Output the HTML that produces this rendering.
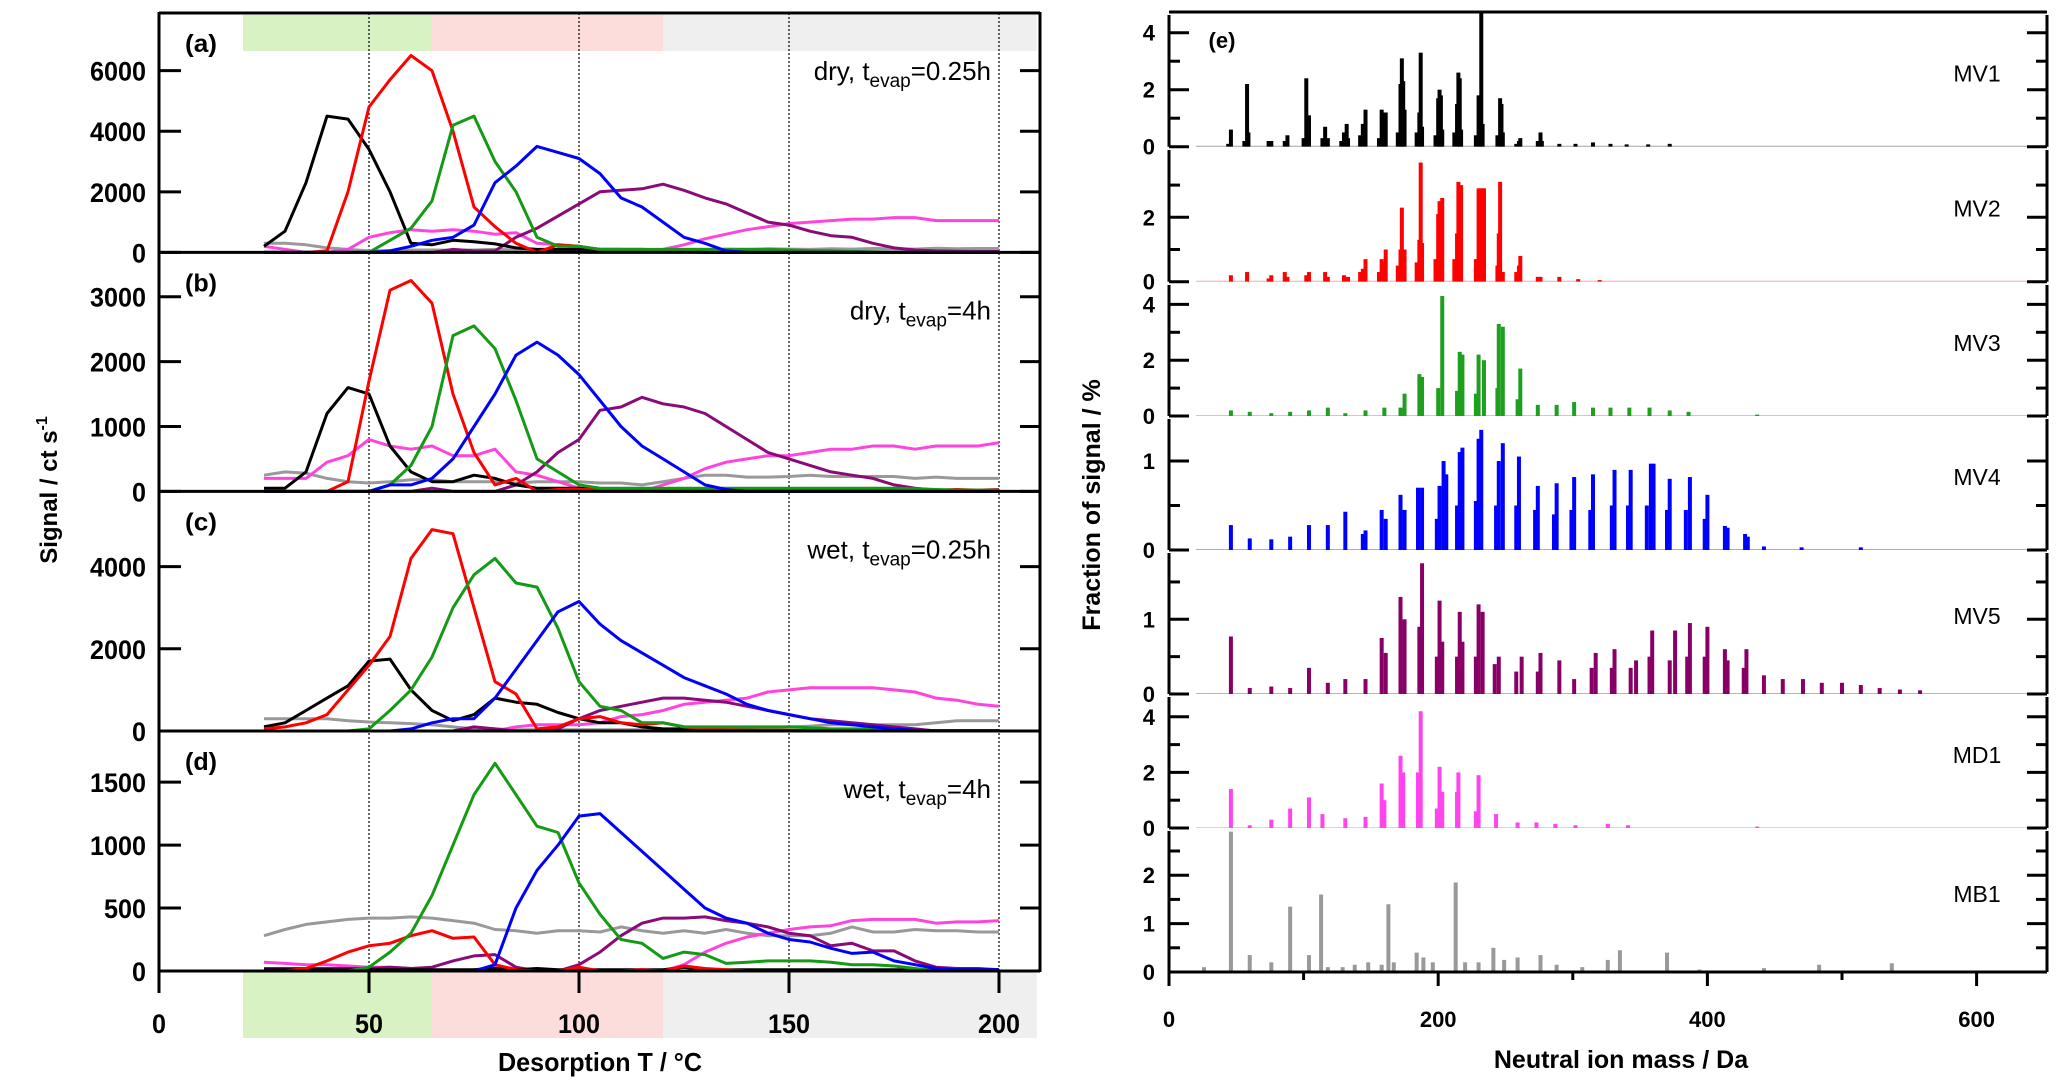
<!DOCTYPE html>
<html><head><meta charset="utf-8">
<style>
html,body{margin:0;padding:0;background:#fff;}
svg{display:block;}
text{font-family:"Liberation Sans",sans-serif;}
.narrow{font-family:"Liberation Sans Narrow","Liberation Sans",sans-serif;}
</style></head>
<body>
<svg id="fig" width="2067" height="1085" viewBox="0 0 2067 1085" xmlns="http://www.w3.org/2000/svg">
<g id="left"></g>
<g id="right"></g>
</svg>
<script>
// ---------- Left panels: desorption thermograms ----------
const temps = [25,30,35,40,45,50,55,60,65,70,75,80,85,90,95,100,105,110,115,120,125,130,135,140,145,150,155,160,165,170,175,180,185,190,195,200];
const seriesColors = ["#000000","#ff0000","#149a14","#0000ff","#8a0a78","#ff44dd","#999999"];
// panel (a) dry 0.25h
const aBlack  = [200,700,2300,4500,4400,3400,2000,300,250,400,350,280,150,100,100,100,100,100,100,80,30,0,0,0,0,0,0,0,0,0,0,0,0,0,0,0];
const aRed    = [0,0,0,50,2000,4800,5700,6500,6000,4000,1500,850,300,0,250,200,100,100,50,50,20,0,0,0,0,0,0,0,0,0,0,0,0,0,0,0];
const aGreen  = [0,0,0,0,0,0,400,800,1700,4200,4500,3000,2000,500,200,200,100,100,100,100,100,100,100,100,100,80,60,50,30,20,0,0,0,0,0,0];
const aBlue   = [0,0,0,0,0,0,50,200,400,500,900,2300,2850,3500,3300,3100,2600,1800,1500,1000,500,300,50,0,0,0,0,0,0,0,0,0,0,0,0,0];
const aPurple = [0,0,0,0,0,0,0,0,0,100,50,50,500,800,1200,1600,2000,2050,2100,2250,2050,1800,1600,1300,1000,900,700,550,500,300,150,80,50,40,30,30];
const aPink   = [200,100,0,0,100,500,650,750,700,750,700,600,650,300,250,150,100,50,50,100,250,450,600,750,850,950,1000,1050,1100,1100,1150,1150,1050,1050,1050,1050];
const aGray   = [300,300,250,150,100,50,60,80,80,70,80,100,80,60,70,80,50,60,70,80,100,100,110,100,120,110,100,120,110,130,120,110,140,120,130,130];
// panel (b) dry 4h
const bBlack  = [50,50,300,1200,1600,1500,700,300,150,150,250,200,100,50,50,50,30,20,10,0,0,0,0,0,0,0,0,0,0,0,0,0,0,0,0,0];
const bRed    = [0,0,0,0,150,1700,3100,3250,2900,1500,600,100,200,0,30,30,30,20,20,20,20,20,20,20,20,20,20,20,20,20,20,30,20,30,20,30];
const bGreen  = [0,0,0,0,0,0,100,400,1000,2400,2550,2200,1400,500,300,100,50,50,50,50,50,50,50,50,50,50,50,50,50,50,50,40,30,20,20,20];
const bBlue   = [0,0,0,0,0,0,100,100,200,500,1000,1500,2100,2300,2100,1800,1400,1000,700,500,300,100,30,0,0,0,0,0,0,0,0,0,0,0,0,0];
const bPurple = [0,0,0,0,0,0,0,0,50,0,0,0,100,300,600,800,1250,1300,1450,1350,1300,1200,1000,800,600,500,400,300,250,200,100,50,20,20,10,10];
const bPink   = [200,200,200,450,550,800,700,650,700,550,550,650,300,250,150,50,0,0,0,100,200,350,450,500,550,550,600,650,650,700,700,650,700,700,700,750];
const bGray   = [250,300,280,200,150,130,150,180,180,150,150,150,130,150,150,150,130,130,100,150,200,250,250,220,220,230,250,230,230,230,230,200,220,200,200,200];
// panel (c) wet 0.25h
const cBlack  = [100,200,500,800,1100,1700,1750,1000,500,250,400,800,700,650,450,300,200,200,100,50,50,30,20,20,10,10,0,0,0,0,0,0,0,0,0,0];
const cRed    = [50,100,200,400,1000,1600,2300,4200,4900,4800,3000,1200,900,50,100,300,350,200,150,200,100,50,30,20,20,20,10,10,10,10,10,10,10,10,10,10];
const cGreen  = [0,0,0,0,0,50,500,1000,1800,3000,3800,4200,3600,3500,2500,1200,600,500,200,200,100,100,100,100,100,100,80,50,50,50,30,0,0,0,0,0];
const cBlue   = [0,0,0,0,0,0,0,50,200,300,300,800,1500,2200,2900,3150,2600,2200,1900,1600,1300,1100,900,650,500,400,300,200,150,100,50,20,10,10,10,10];
const cPurple = [0,0,0,0,0,0,0,0,0,0,100,50,0,0,50,300,500,600,700,800,800,750,700,600,500,400,300,250,200,150,100,50,0,0,0,0];
const cPink   = [0,0,0,0,0,0,0,0,0,0,0,0,100,150,150,150,200,350,400,500,650,700,750,800,950,1000,1050,1050,1050,1050,1000,950,800,750,650,600];
const cGray   = [300,300,300,300,250,220,200,180,150,100,50,50,30,30,30,30,30,30,30,30,40,40,50,50,60,100,120,150,150,150,150,150,200,250,250,250];
// panel (d) wet 4h
const dBlack  = [10,10,10,10,10,10,10,10,10,10,10,20,10,20,10,10,10,10,10,10,30,10,10,10,10,10,10,10,10,10,10,10,10,10,10,10];
const dRed    = [0,0,20,80,150,200,220,280,320,260,270,50,10,0,0,30,0,0,10,0,40,20,10,0,0,0,0,0,0,0,0,0,0,0,0,0];
const dGreen  = [0,0,0,0,0,30,150,300,600,1000,1400,1650,1400,1150,1100,700,450,250,220,100,150,130,60,70,80,80,80,70,50,50,40,20,0,0,0,0];
const dBlue   = [0,0,0,0,0,0,0,0,0,0,0,50,500,800,1000,1230,1250,1100,950,800,650,500,420,380,300,250,230,180,140,150,80,50,20,10,10,10];
const dPurple = [20,20,20,20,20,20,30,20,30,80,120,130,30,0,0,50,150,280,380,420,420,430,400,380,350,300,280,200,220,160,160,80,30,20,20,10];
const dPink   = [70,60,50,50,40,30,30,20,10,0,10,30,20,10,0,0,0,0,10,0,50,150,220,270,300,330,350,360,400,410,410,410,380,390,390,400];
const dGray   = [280,330,370,390,410,420,420,430,420,400,380,330,320,300,320,320,310,350,320,300,320,300,330,300,280,280,280,300,350,310,310,330,320,320,310,310];

const panelSeries = [
  [aBlack,aRed,aGreen,aBlue,aPurple,aPink,aGray],
  [bBlack,bRed,bGreen,bBlue,bPurple,bPink,bGray],
  [cBlack,cRed,cGreen,cBlue,cPurple,cPink,cGray],
  [dBlack,dRed,dGreen,dBlue,dPurple,dPink,dGray]
];
const panelTicks = [[0,2000,4000,6000],[0,1000,2000,3000],[0,2000,4000],[0,500,1000,1500]];
const panelLetters = ["(a)","(b)","(c)","(d)"];
const panelCond = [["dry, t","evap","=0.25h"],["dry, t","evap","=4h"],["wet, t","evap","=0.25h"],["wet, t","evap","=4h"]];
const xTicks = [0,50,100,150,200];
const seriesNames = ["black","red","green","blue","purple","magenta","gray"];

// ---------- Right panels: mass spectra ----------
const specNames = ["MV1","MV2","MV3","MV4","MV5","MD1","MB1"];
const specColors = ["#000000","#ff0000","#1ea01e","#0000ff","#880066","#ff44ee","#999999"];
const mv1Mass = [44,46,56,58,59,74,76,86,88,100,102,104,114,116,118,128,130,132,133,142,144,146,156,158,160,161,170,172,173,174,175,184,186,187,188,198,200,201,202,203,212,214,215,216,217,228,230,231,232,233,244,246,247,248,258,260,261,274,276,277,290,302,315,328,340,356,372];
const mv1Val  = [0.1,0.6,0.2,2.2,0.5,0.2,0.2,0.2,0.4,0.3,2.4,1.1,0.3,0.7,0.3,0.2,0.5,0.8,0.3,0.4,0.8,1.3,0.3,1.3,1.2,1.2,0.5,2.2,3.1,2.3,1.3,0.5,1.2,3.3,0.7,0.4,1.7,2.0,1.8,0.6,0.5,1.5,2.6,2.4,0.6,0.4,1.8,1.8,4.9,0.8,0.4,1.7,1.5,0.5,0.1,0.2,0.3,0.2,0.5,0.2,0.1,0.1,0.15,0.1,0.08,0.08,0.1];
const mv2Mass = [46,58,74,76,86,88,102,104,116,118,130,133,142,144,146,156,158,160,161,170,172,173,175,184,186,187,188,198,200,201,203,212,214,215,217,228,230,232,234,244,245,246,248,258,260,261,274,276,290,304,320];
const mv2Val  = [0.2,0.3,0.1,0.2,0.3,0.15,0.2,0.3,0.3,0.15,0.2,0.15,0.3,0.4,0.7,0.3,0.7,0.6,1.0,0.5,1.0,2.3,1.0,0.6,1.3,3.7,1.2,0.7,2.1,2.5,2.6,0.7,1.5,3.1,3.0,0.7,2.9,2.9,2.9,0.5,1.5,3.1,0.3,0.3,0.5,0.8,0.15,0.15,0.15,0.08,0.05];
const mv3Mass = [46,60,76,90,104,118,131,146,160,172,175,186,188,200,203,214,216,218,228,230,234,244,245,248,259,261,274,288,301,315,328,342,357,372,386,437];
const mv3Val  = [0.2,0.15,0.1,0.15,0.2,0.3,0.1,0.2,0.3,0.3,0.8,1.5,1.4,1.0,4.3,0.9,2.3,2.2,0.8,2.2,2.0,1.0,3.3,3.2,0.6,1.7,0.4,0.4,0.5,0.3,0.3,0.3,0.3,0.2,0.15,0.05];
const mv4Mass = [46,60,76,90,104,118,131,144,146,158,161,172,175,185,188,199,201,204,206,214,216,218,228,230,232,243,245,248,258,260,272,274,286,288,299,301,313,315,329,331,341,343,355,358,360,370,372,384,387,398,400,413,415,428,430,442,470,514];
const mv4Val  = [0.28,0.13,0.12,0.15,0.28,0.28,0.43,0.18,0.22,0.45,0.35,0.62,0.45,0.7,0.7,0.35,0.72,1.0,0.85,0.5,1.1,1.15,0.55,1.25,1.35,0.5,1.0,1.2,0.5,1.05,0.45,0.72,0.4,0.75,0.45,0.82,0.45,0.85,0.5,0.9,0.5,0.9,0.5,0.97,0.97,0.45,0.8,0.45,0.82,0.35,0.62,0.27,0.25,0.18,0.15,0.04,0.03,0.03];
const mv5Mass = [46,60,76,90,104,118,131,146,158,161,172,175,186,188,199,201,203,214,216,218,228,230,233,242,245,258,262,274,276,290,301,314,317,329,331,343,347,357,359,372,376,385,387,398,400,413,415,427,429,442,456,471,485,500,514,528,543,558];
const mv5Val  = [0.77,0.08,0.1,0.08,0.35,0.15,0.2,0.2,0.75,0.55,1.3,1.0,0.9,1.75,0.5,1.25,0.7,0.5,1.1,0.7,0.5,1.2,1.1,0.4,0.5,0.3,0.5,0.3,0.55,0.45,0.2,0.35,0.55,0.35,0.6,0.35,0.45,0.5,0.85,0.45,0.85,0.5,0.95,0.5,0.9,0.6,0.45,0.35,0.6,0.25,0.2,0.2,0.15,0.15,0.12,0.08,0.06,0.05];
const md1Mass = [46,60,76,90,104,114,131,146,158,160,172,174,185,187,199,201,203,214,215,228,230,243,259,273,287,302,326,341,437];
const md1Val  = [1.4,0.1,0.3,0.7,1.1,0.5,0.35,0.4,1.6,1.0,2.6,2.0,2.0,4.2,0.7,2.2,1.3,1.3,2.0,0.6,1.9,0.5,0.2,0.2,0.15,0.1,0.15,0.1,0.05];
const mb1Mass = [26,46,60,76,90,104,113,118,129,138,148,158,163,167,184,189,196,213,220,230,241,249,259,276,288,307,326,335,370,394,442,483,537];
const mb1Val  = [0.1,2.9,0.35,0.2,1.35,0.35,1.6,0.1,0.1,0.15,0.2,0.15,1.4,0.2,0.4,0.3,0.2,1.85,0.2,0.2,0.5,0.25,0.3,0.35,0.15,0.1,0.25,0.45,0.4,0.05,0.08,0.15,0.18];
const specMasses = [mv1Mass,mv2Mass,mv3Mass,mv4Mass,mv5Mass,md1Mass,mb1Mass];
const specValues = [mv1Val,mv2Val,mv3Val,mv4Val,mv5Val,md1Val,mb1Val];
const specTicks = [[0,2,4],[0,2],[0,2,4],[0,1],[0,1],[0,2,4],[0,1,2]];
const specMinor = [[1,3],[1,3],[1,3],[0.5],[0.5,1.5],[1,3],[0.5,1.5,2.5]];
const massTicks = [0,200,400,600];
const massMinor = [100,300,500];

const NS = "http://www.w3.org/2000/svg";
function mk(tag, attrs, parent){
  const e = document.createElementNS(NS, tag);
  for (const k in attrs) e.setAttribute(k, attrs[k]);
  parent.appendChild(e);
  return e;
}
const L = document.getElementById("left");
const R = document.getElementById("right");

// ===== Left geometry =====
const LX0 = 159, LX1 = 1040;
function xT(t){ return LX0 + t * 4.2; }
const lp = [
  {top:13, zero:252.4, per:0.03029},
  {top:252.4, zero:491.4, per:0.0649},
  {top:491.4, zero:731, per:0.0411},
  {top:731, zero:971, per:0.1259}
];

const bands = [[20,65,"#d9f2c4"],[65,120,"#fddcdc"],[120,209,"#efefef"]];
bands.forEach((b,i)=>{
  const x1 = xT(b[0]), x2 = Math.min(xT(b[1]), LX1);
  let r = mk("rect",{x:x1,y:15,width:x2-x1,height:36,fill:b[2]},L);
  
  
  r = mk("rect",{x:x1,y:972,width:x2-x1,height:66,fill:b[2]},L);
  
  
});

lp.forEach((p,i)=>{
  const cp = mk("clipPath",{id:"lc"+i},L);
  mk("rect",{x:LX0,y:p.top,width:LX1-LX0,height:p.zero-p.top+2},cp);
});

[50,100,150,200].forEach(t=>{
  const ln = mk("line",{x1:xT(t),x2:xT(t),y1:13,y2:971,stroke:"#000","stroke-width":1.2,"stroke-dasharray":"2,2"},L);
  
  
});

lp.forEach((p,i)=>{
  const g = mk("g",{"clip-path":"url(#lc"+i+")"},L);
  
  
  const order = [6,5,4,0,1,2,3];
  order.forEach(si=>{
    const vals = panelSeries[i][si];
    const pts = temps.map((t,k)=> xT(t).toFixed(1)+","+(p.zero - vals[k]*p.per).toFixed(1)).join(" ");
    const pl = mk("polyline",{points:pts,fill:"none",stroke:seriesColors[si],"stroke-width":3,"stroke-linejoin":"round"},g);
    
    
  });
});

mk("line",{x1:LX0,x2:LX1,y1:13,y2:13,stroke:"#000","stroke-width":3},L);
lp.forEach((p,i)=>{
  const zl = mk("line",{x1:LX0,x2:LX1,y1:p.zero,y2:p.zero,stroke:"#000","stroke-width":3},L);
  
  
  panelTicks[i].forEach(v=>{
    const y = p.zero - v*p.per;
    mk("line",{x1:LX0,x2:LX0+22,y1:y,y2:y,stroke:"#000","stroke-width":3},L);
    mk("line",{x1:LX1-20,x2:LX1,y1:y,y2:y,stroke:"#000","stroke-width":3},L);
    const tx = mk("text",{x:146,y:y+10,"text-anchor":"end","font-size":27,"font-weight":"bold",class:"narrow",textLength:(String(v).length*14),lengthAdjust:"spacingAndGlyphs"},L);
    tx.textContent = v;
    
    
  });
  const lt = mk("text",{x:185,y:p.top+39,"font-size":25,"font-weight":"bold",class:"narrow",textLength:32,lengthAdjust:"spacingAndGlyphs"},L);
  lt.textContent = panelLetters[i];
  
  
  const ct = mk("text",{x:991,y:p.top+67,"text-anchor":"end","font-size":26,class:"narrow"},L);
  
  
  const s1 = mk("tspan",{},ct); s1.textContent = panelCond[i][0];
  const s2 = mk("tspan",{dy:7,"font-size":19},ct); s2.textContent = panelCond[i][1];
  const s3 = mk("tspan",{dy:-7},ct); s3.textContent = panelCond[i][2];
});
mk("line",{x1:LX0,x2:LX0,y1:12,y2:993,stroke:"#000","stroke-width":3},L);
mk("line",{x1:LX1,x2:LX1,y1:12,y2:972,stroke:"#000","stroke-width":3},L);
xTicks.forEach(t=>{
  mk("line",{x1:xT(t),x2:xT(t),y1:971,y2:993,stroke:"#000","stroke-width":3},L);
  const tx = mk("text",{x:xT(t),y:1033,"text-anchor":"middle","font-size":27,"font-weight":"bold",class:"narrow",textLength:(String(t).length*14),lengthAdjust:"spacingAndGlyphs"},L);
  tx.textContent = t;
  
  
});
let xt = mk("text",{x:600,y:1071,"text-anchor":"middle","font-size":26,"font-weight":"bold",class:"narrow",textLength:204,lengthAdjust:"spacingAndGlyphs"},L);
xt.textContent = "Desorption T / °C";


let yt = mk("text",{x:0,y:0,"text-anchor":"middle","font-size":24,"font-weight":"bold",transform:"translate(57,490) rotate(-90)"},L);


let y1 = mk("tspan",{},yt); y1.textContent = "Signal / ct s";
let y2 = mk("tspan",{dy:-10,"font-size":16},yt); y2.textContent = "-1";

// ===== Right geometry =====
const RX0 = 1169, RX1 = 2047;
function xM(m){ return RX0 + m * 1.346; }
const rp = [
  {top:12, zero:146.7, per:28.5},
  {top:147, zero:281.7, per:32.2},
  {top:282, zero:416, per:27.9},
  {top:416, zero:550, per:89},
  {top:550, zero:694, per:74.7},
  {top:694, zero:828, per:27.8},
  {top:828, zero:972, per:48.4}
];
rp.forEach((p,i)=>{
  const cp = mk("clipPath",{id:"rc"+i},R);
  mk("rect",{x:RX0,y:p.top,width:RX1-RX0,height:p.zero-p.top},cp);
  const bl = mk("line",{x1:xM(20),x2:xM(650),y1:p.zero-0.5,y2:p.zero-0.5,stroke:specColors[i],"stroke-width":1,opacity:0.35},R);
  
  
  const g = mk("g",{"clip-path":"url(#rc"+i+")",fill:specColors[i]},R);
  
  
  specMasses[i].forEach((m,k)=>{
    const h = specValues[i][k]*p.per;
    const b = mk("rect",{x:xM(m)-2,y:p.zero-h,width:4,height:h},g);
    
    
  });
  mk("line",{x1:RX0,x2:RX0,y1:p.top+3,y2:p.zero+(i==6?14:0),stroke:"#000","stroke-width":3},R);
  mk("line",{x1:RX1,x2:RX1,y1:p.top+3,y2:p.zero,stroke:"#000","stroke-width":3},R);
  specTicks[i].forEach(v=>{
    const y = p.zero - v*p.per;
    mk("line",{x1:RX0,x2:RX0+20,y1:y,y2:y,stroke:"#000","stroke-width":3},R);
    mk("line",{x1:RX1-20,x2:RX1,y1:y,y2:y,stroke:"#000","stroke-width":3},R);
    const tx = mk("text",{x:1155,y:y+8,"text-anchor":"end","font-size":22,"font-weight":"bold"},R);
    tx.textContent = v;
    
    
  });
  specMinor[i].forEach(v=>{
    const y = p.zero - v*p.per;
    if (y < p.top+3) return;
    mk("line",{x1:RX0,x2:RX0+11,y1:y,y2:y,stroke:"#000","stroke-width":3},R);
    mk("line",{x1:RX1-11,x2:RX1,y1:y,y2:y,stroke:"#000","stroke-width":3},R);
  });
  const nm = mk("text",{x:1977,y:(p.top+p.zero)/2+2,"text-anchor":"middle","font-size":23},R);
  nm.textContent = specNames[i];
  
  
});
mk("line",{x1:RX0,x2:RX1,y1:12,y2:12,stroke:"#000","stroke-width":3},R);
mk("line",{x1:RX0,x2:RX1,y1:972,y2:972,stroke:"#000","stroke-width":3},R);
massTicks.forEach(m=>{
  mk("line",{x1:xM(m),x2:xM(m),y1:972,y2:986,stroke:"#000","stroke-width":3},R);
  const tx = mk("text",{x:xM(m),y:1027,"text-anchor":"middle","font-size":22,"font-weight":"bold"},R);
  tx.textContent = m;
  
  
});
massMinor.forEach(m=>{
  mk("line",{x1:xM(m),x2:xM(m),y1:972,y2:980,stroke:"#000","stroke-width":3},R);
});
let el = mk("text",{x:1222,y:48,"font-size":22,"font-weight":"bold","text-anchor":"middle"},R);
el.textContent = "(e)";


let mx = mk("text",{x:1621,y:1068,"text-anchor":"middle","font-size":25,"font-weight":"bold"},R);
mx.textContent = "Neutral ion mass / Da";


let my = mk("text",{x:0,y:0,"text-anchor":"middle","font-size":25,"font-weight":"bold",transform:"translate(1100,505) rotate(-90)"},R);
my.textContent = "Fraction of signal / %";


</script>
</body></html>
